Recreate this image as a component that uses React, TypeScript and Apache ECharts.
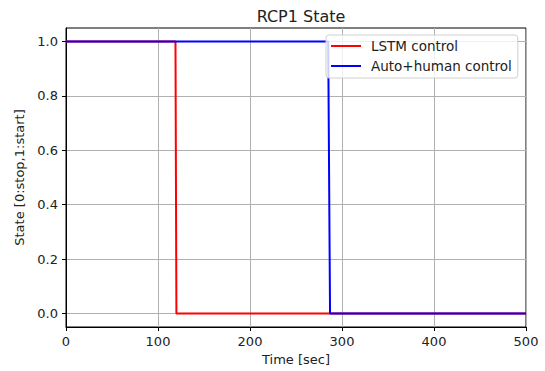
import React, { useEffect, useRef } from "react";
import * as echarts from "echarts";

const titleText = "RCP1 State";
const xName = "Time [sec]";
const yName = "State [0:stop,1:start]";
const xTicks = [0, 100, 200, 300, 400, 500];
const yTicks = [0, 0.2, 0.4, 0.6, 0.8, 1.0];
const lstmName = "LSTM control";
const autoName = "Auto+human control";
const lstmData: [number, number][] = [
  [0, 1],
  [119, 1],
  [120, 0],
  [500, 0],
];
const autoData: [number, number][] = [
  [0, 1],
  [285, 1],
  [287, 0],
  [500, 0],
];

const FONT = "DejaVu Sans";

export default function App() {
  const ref = useRef<HTMLDivElement>(null);
  useEffect(() => {
    if (!ref.current) return;
    const chart = echarts.init(ref.current, undefined, { renderer: "svg" });
    chart.setOption({
      animation: false,
      backgroundColor: "#fff",
      textStyle: { fontFamily: FONT },
      title: {
        text: titleText,
        left: 296,
        top: 3,
        textAlign: "center",
        textStyle: { fontFamily: FONT, fontSize: 16, fontWeight: "normal", color: "#222" },
      },
      grid: {
        left: 66,
        right: 19,
        top: 28,
        bottom: 43,
        show: true,
        borderColor: "#000",
        borderWidth: 1,
        backgroundColor: "transparent",
      },
      legend: {
        orient: "vertical",
        left: 326,
        top: 35,
        padding: [4, 6, 5, 4],
        itemGap: 6,
        itemWidth: 30,
        itemHeight: 14,
        itemStyle: { opacity: 0 },
        lineStyle: { width: 2 },
        backgroundColor: "rgba(255,255,255,0.8)",
        borderColor: "#d0d0d0",
        borderWidth: 1,
        borderRadius: 3,
        textStyle: { fontFamily: FONT, fontSize: 13.5, color: "#222", padding: [0, 0, 0, 5] },
        data: [lstmName, autoName],
      },
      xAxis: {
        type: "value",
        min: 0,
        max: 500,
        interval: 100,
        name: xName,
        nameLocation: "middle",
        nameGap: 26,
        nameTextStyle: { fontFamily: FONT, fontSize: 13, color: "#222" },
        axisLine: { show: true, onZero: false, lineStyle: { color: "#000", width: 1 } },
        axisTick: { show: true, length: 4, lineStyle: { color: "#000" } },
        axisLabel: {
          fontFamily: FONT,
          fontSize: 13,
          color: "#222",
          margin: 8,
          customValues: xTicks,
          formatter: (v: number) => String(v),
        },
        splitLine: { show: true, lineStyle: { color: "#b0b0b0", width: 1 } },
      },
      yAxis: {
        type: "value",
        min: -0.05,
        max: 1.05,
        name: yName,
        nameLocation: "middle",
        nameGap: 37,
        nameTextStyle: { fontFamily: FONT, fontSize: 13, color: "#222" },
        axisLine: { show: true, onZero: false, lineStyle: { color: "#000", width: 1 } },
        axisTick: { show: true, length: 4, customValues: yTicks, lineStyle: { color: "#000" } },
        axisLabel: {
          fontFamily: FONT,
          fontSize: 13,
          color: "#222",
          margin: 8,
          customValues: yTicks,
          formatter: (v: number) => v.toFixed(1),
        },
        splitLine: { show: true, lineStyle: { color: "#b0b0b0", width: 1 } },
      },
      series: [
        {
          name: lstmName,
          type: "line",
          data: lstmData,
          symbol: "none",
          lineStyle: { color: "#ff0000", width: 2 },
          itemStyle: { color: "#ff0000" },
          z: 2,
        },
        {
          name: autoName,
          type: "line",
          data: autoData,
          symbol: "none",
          lineStyle: { color: "#0000ff", width: 2 },
          itemStyle: { color: "#0000ff" },
          z: 3,
        },
      ],
    });
    return () => chart.dispose();
  }, []);
  return (
    <div
      ref={ref}
      style={{ position: "fixed", left: 0, top: 0, width: 545, height: 371 }}
    />
  );
}
